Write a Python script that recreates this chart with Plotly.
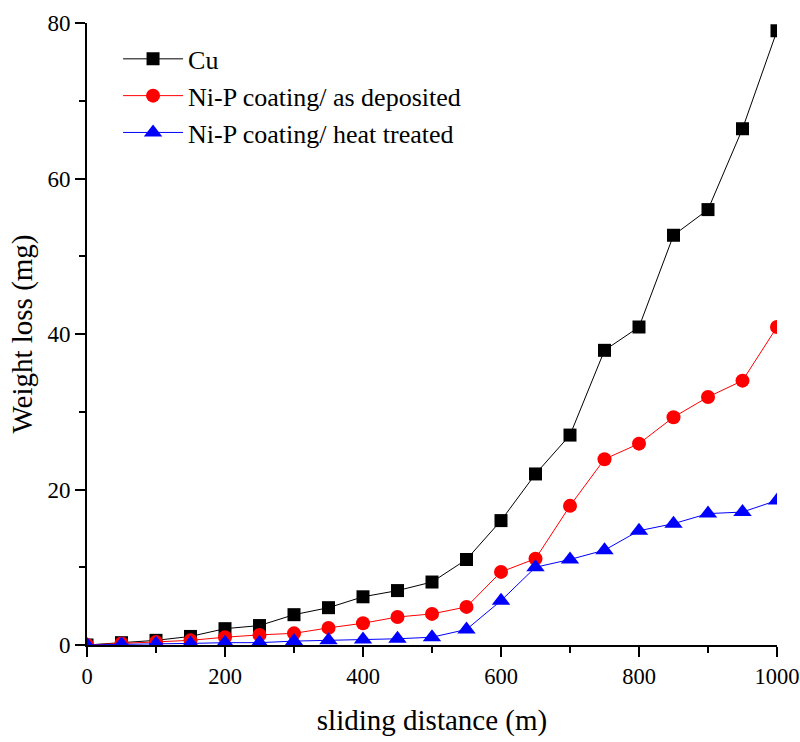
import plotly.graph_objects as go

distance = [0, 50, 100, 150, 200, 250, 300, 350, 400, 450, 500,
            550, 600, 650, 700, 750, 800, 850, 900, 950, 1000]
cu = [0, 0.3, 0.6, 1.1, 2.1, 2.5, 3.9, 4.8, 6.2, 7.0, 8.1,
      11.0, 16.0, 22.0, 27.0, 37.9, 40.9, 52.7, 56.0, 66.4, 79.0]
nip_dep = [0, 0.2, 0.4, 0.6, 1.0, 1.3, 1.5, 2.2, 2.8, 3.6, 4.0,
           4.9, 9.4, 11.1, 17.9, 23.9, 25.9, 29.3, 31.9, 34.0, 40.9]
nip_heat = [0, 0.1, 0.15, 0.2, 0.3, 0.3, 0.5, 0.6, 0.7, 0.8, 1.0,
            2.0, 5.7, 10.0, 11.0, 12.2, 14.7, 15.6, 16.9, 17.1, 18.6]

names = ["Cu", "Ni-P coating/ as deposited", "Ni-P coating/ heat treated"]
colors = ["black", "red", "blue"]
symbols = ["square", "circle", "triangle-up"]
sizes = [13, 14, 16]

fig = go.Figure()
for y, n, c, s, sz in zip([cu, nip_dep, nip_heat], names, colors, symbols, sizes):
    fig.add_trace(go.Scatter(
        x=distance, y=y, name=n, mode="lines+markers",
        line=dict(color=c, width=1),
        marker=dict(symbol=s, size=sz, color=c, line=dict(width=0)),
    ))

font = "Liberation Serif, Times New Roman, serif"
fig.update_layout(
    width=800, height=742,
    margin=dict(l=87, r=23, t=23, b=97),
    paper_bgcolor="white", plot_bgcolor="white",
    font=dict(family=font, color="black"),
    showlegend=True,
    legend=dict(x=0.045, y=0.98, xanchor="left", yanchor="top",
                font=dict(size=26, family=font), bgcolor="rgba(0,0,0,0)",
                tracegroupgap=0, itemwidth=60),
    xaxis=dict(range=[0, 1000], tickvals=[0, 200, 400, 600, 800, 1000],
               automargin=False, ticklabeloverflow="allow",
               showgrid=False, zeroline=False, showline=True, linecolor="black",
               linewidth=2, ticks="outside", ticklen=10, tickwidth=2, tickcolor="black",
               tickfont=dict(size=22.5), mirror=False,
               minor=dict(dtick=100, ticks="outside", ticklen=6, tickwidth=2, tickcolor="black"),
               title=dict(text="sliding distance (m)", font=dict(size=29), standoff=22)),
    yaxis=dict(range=[0, 80], tickvals=[0, 20, 40, 60, 80],
               automargin=False, ticklabeloverflow="allow",
               showgrid=False, zeroline=False, showline=True, linecolor="black",
               linewidth=2, ticks="outside", ticklen=10, tickwidth=2, tickcolor="black",
               tickfont=dict(size=23),
               minor=dict(dtick=10, ticks="outside", ticklen=6, tickwidth=2, tickcolor="black"),
               title=dict(text="Weight loss (mg)", font=dict(size=29), standoff=6)),
)

fig.write_html("out.html",
               config={"displayModeBar": False},
               post_script="document.body.style.margin='0';document.body.style.overflow='hidden';")
